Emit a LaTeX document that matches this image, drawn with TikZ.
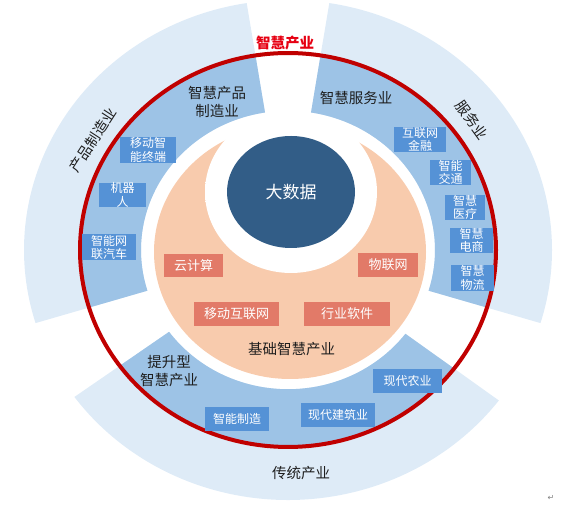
\documentclass[tikz,border=0pt]{standalone}
\usepackage{fontspec}
\usetikzlibrary{shapes.geometric}
\newfontfamily\cjk{Noto Sans CJK SC}
\newfontfamily\djv{DejaVu Sans}
\definecolor{ringlight}{HTML}{DEEBF7}
\definecolor{ringmid}{HTML}{9DC3E6}
\definecolor{boxblue}{HTML}{5592D6}
\definecolor{boxred}{HTML}{E27A68}
\definecolor{peach}{HTML}{F8CBAD}
\definecolor{darkcore}{HTML}{325D87}
\definecolor{redring}{HTML}{C00000}
\definecolor{titlered}{HTML}{E60012}
\definecolor{labeltext}{HTML}{1E1E1E}
\definecolor{glowedge}{HTML}{FCE9DD}
\pgfdeclareradialshading{whiteglow}{\pgfpoint{0bp}{0bp}}{color(0bp)=(white); color(38bp)=(white); color(50bp)=(glowedge); color(60bp)=(glowedge)}
\newcommand\ringsector[5]{\fill[#1] (#2:#4) arc[start angle=#2,end angle=#3,radius=#4] -- (#3:#5) arc[start angle=#3,end angle=#2,radius=#5] -- cycle;}
\begin{document}
\begin{tikzpicture}[x=1pt,y=1pt,
  bluebox/.style={fill=boxblue,text=white,inner sep=0pt,align=center,font=\cjk\fontsize{12}{13.5}\selectfont},
  redbox/.style={fill=boxred,text=white,inner sep=0pt,align=center,font=\cjk\fontsize{13}{14}\selectfont},
  lbl/.style={text=labeltext,inner sep=0pt,align=center,font=\cjk\fontsize{14.5}{18.5}\selectfont}]
\useasboundingbox (0,0) rectangle (578,511);
\begin{scope}[shift={(288,261)},yscale=0.947]
  \ringsector{ringlight}{99}{197}{264pt}{147pt}
  \ringsector{ringlight}{-17}{81}{264pt}{147pt}
  \ringsector{ringlight}{216}{323}{264pt}{147pt}
  \ringsector{ringmid}{99}{197}{208pt}{147pt}
  \ringsector{ringmid}{-17}{81}{208pt}{147pt}
  \ringsector{ringmid}{216}{323}{208pt}{147pt}
  \draw[redring,line width=4pt] (0,0) circle[radius=208pt];
\end{scope}
\fill[peach] (290,259) ellipse[x radius=136pt,y radius=127pt];
\shade[shading=whiteglow] (291,319) ellipse[x radius=86pt,y radius=81pt];
\node[fill=darkcore,ellipse,minimum width=128pt,minimum height=112pt,inner sep=0pt,text=white,font=\cjk\fontsize{17}{18}\selectfont] (core) at (291,319) {大数据};
% blue boxes
\node[bluebox,minimum width=56pt,minimum height=26pt] (b1) at (148,361) {移动智\\能终端};
\node[bluebox,minimum width=47pt,minimum height=24pt] (b2) at (122.5,316) {机器\\人};
\node[bluebox,minimum width=54pt,minimum height=26pt] (b3) at (109,263.5) {智能网\\联汽车};
\node[bluebox,minimum width=52pt,minimum height=25pt] (b4) at (420,371.5) {互联网\\金融};
\node[bluebox,minimum width=41pt,minimum height=25pt] (b5) at (450.5,338.5) {智能\\交通};
\node[bluebox,minimum width=40pt,minimum height=25pt] (b6) at (465,303.5) {智慧\\医疗};
\node[bluebox,minimum width=43pt,minimum height=25pt] (b7) at (471.5,270.5) {智慧\\电商};
\node[bluebox,minimum width=43pt,minimum height=26pt] (b8) at (472.5,233) {智慧\\物流};
\node[bluebox,minimum width=64pt,minimum height=24pt] (b9) at (237,92) {智能制造};
\node[bluebox,minimum width=74pt,minimum height=24pt] (b10) at (338,96) {现代建筑业};
\node[bluebox,minimum width=69pt,minimum height=24pt] (b11) at (407.5,130) {现代农业};
% red boxes
\node[redbox,minimum width=59pt,minimum height=23pt] (r1) at (193.5,245.5) {云计算};
\node[redbox,minimum width=85pt,minimum height=24pt] (r2) at (236.5,197) {移动互联网};
\node[redbox,minimum width=60pt,minimum height=24pt] (r3) at (388,246) {物联网};
\node[redbox,minimum width=86pt,minimum height=24pt] (r4) at (347,197) {行业软件};
% labels
\node[lbl] (l1) at (217,409) {智慧产品\\制造业};
\node[lbl] (l2) at (356,413) {智慧服务业};
\node[lbl] (l3) at (169,140) {提升型\\智慧产业};
\node[lbl] (l4) at (291.5,162) {基础智慧产业};
\node[lbl] (l5) at (301,38) {传统产业};
\node[lbl,rotate=57] (l6) at (93,371) {产品制造业};
\node[lbl,rotate=-54] (l7) at (472,391) {服务业};
\node[text=titlered,inner sep=0pt,font=\cjk\bfseries\fontsize{14.5}{16}\selectfont] (title) at (285,468) {智慧产业};
\node[text=gray,inner sep=0pt,font=\djv\fontsize{8}{9}\selectfont] (mark) at (551,13) {↵};
\end{tikzpicture}
\end{document}
